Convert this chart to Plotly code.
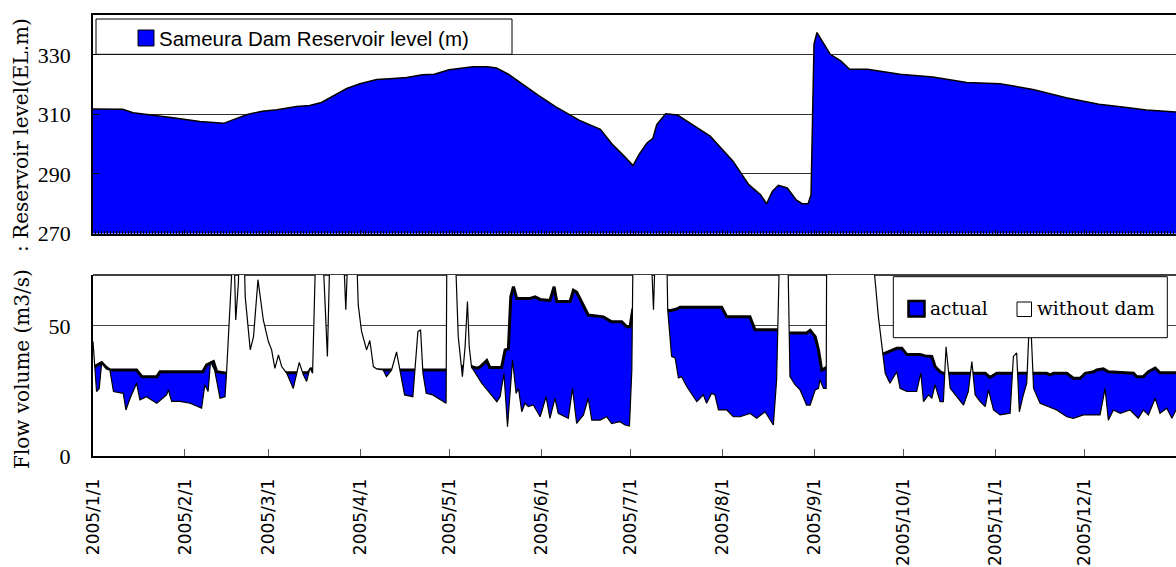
import pandas as pd
import plotly.graph_objects as go

BASE = pd.Timestamp("2005-01-01")

# ---- x axis month ticks ----
month_ticks = ["2005-%02d-01" % m for m in range(1, 13)]
month_labels = ["2005/%d/1" % m for m in range(1, 13)]

# ---- reservoir level (day of year offset, m) ----
res_days = [0, 10, 13.5, 23.7, 27, 36, 40, 44, 48, 52, 57, 62, 68.6, 73, 77, 80, 85.5, 90,
            95.6, 100, 105.7, 111, 115, 120, 124, 128, 133, 136, 140, 144, 150, 156, 164,
            171, 175, 179, 182, 184, 186.7, 188.7, 190, 193, 197, 202, 208, 215.7, 221,
            225, 227, 229, 231, 234, 237, 239, 241, 242, 243, 244, 248.5, 252, 255, 261,
            272, 283, 294.5, 305.7, 316.8, 328, 339, 347, 355, 365]
res_level = [311.8, 311.7, 310.6, 309.4, 308.9, 307.6, 307.2, 307.0, 308.5, 310.0, 311.1,
             311.6, 312.7, 313.0, 314.0, 315.6, 318.7, 320.3, 321.7, 322.0, 322.4, 323.3,
             323.5, 325.0, 325.5, 326.0, 326.0, 325.6, 323.5, 320.6, 316.5, 312.5, 308.0,
             305.0, 300.0, 296.0, 292.8, 296.5, 300.4, 302.0, 306.6, 310.2, 309.8, 306.6,
             302.7, 294.3, 286.4, 283.0, 280.0, 284.2, 286.2, 285.3, 281.3, 280.0, 280.0,
             283.0, 333.6, 337.5, 330.2, 328.0, 325.2, 325.2, 323.5, 322.6, 320.7, 320.3,
             318.4, 315.6, 313.4, 312.5, 311.5, 310.8]

# ---- flow volume: actual (day offset, m3/s) ----
act_days = [0, 2.9, 4.5, 5.7, 14.7, 16.5, 21.5, 22.6, 37, 38.3, 40.6, 41.7, 45, 50, 60,
            65.3, 72.5, 73.5, 74.5, 80, 90, 93, 95, 119.5, 122, 123.7, 127.6, 129.3, 130.4,
            132.7, 133.8, 137.7, 138.9, 140, 140.8, 141.7, 142.8, 147.3, 149, 150.7, 154,
            155.4, 156.3, 160.8, 161.9, 163, 164.7, 166.9, 172, 174.8, 178.2, 179.9, 181,
            181.9, 185, 190, 194.5, 196.7, 197.9, 211.9, 213.6, 221.4, 223.1, 231, 233,
            234.9, 240.5, 241.7, 243.4, 244.5, 245.6, 247.1, 255, 263, 266.2, 270.9, 272.6,
            274.3, 278.7, 280.4, 282.7, 283.8, 285.5, 286.6, 300.7, 302.3, 304.6, 321.4,
            322.6, 323.7, 328.2, 330.4, 332.7, 334.4, 337.2, 338.3, 340.5, 342.2, 346.2,
            350.7, 351.8, 354, 355.7, 358, 359.6, 365]
act_flow = [34.0, 35.9, 34.0, 33.1, 33.1, 30.5, 30.5, 32.4, 32.4, 35.0, 36.3, 32.4, 31.8,
            33.0, 33.0, 32.0, 32.0, 33.5, 33.0, 33.0, 33.0, 34.0, 33.1, 33.1, 33.5, 34.4,
            34.4, 33.8, 34.2, 36.7, 34.0, 34.0, 40.8, 41.2, 61.2, 65.1, 60.6, 60.6, 61.2,
            60.2, 59.8, 65.1, 59.4, 59.4, 63.7, 63.0, 59.4, 54.2, 53.5, 51.6, 51.6, 49.7,
            49.7, 56.2, 57.0, 57.0, 55.9, 56.5, 57.2, 57.2, 53.5, 53.5, 48.5, 48.5, 47.5,
            47.3, 47.3, 48.3, 45.9, 40.8, 33.0, 34.0, 38.0, 39.0, 39.2, 41.4, 41.4, 39.0,
            39.0, 38.5, 38.3, 34.4, 32.4, 31.8, 31.8, 30.2, 31.8, 31.8, 31.2, 31.8, 31.8,
            29.9, 29.9, 31.8, 32.4, 33.1, 33.5, 32.4, 32.0, 31.8, 30.5, 30.5, 32.4, 33.8,
            32.0, 32.0]

# ---- flow volume: without dam (day offset, m3/s); 90 = off the chart ----
nodam_days = [0, 1.2, 2.1, 2.9, 4.5, 5.7, 6.9, 10.2, 11.1, 12.5, 14.7, 15.8, 18, 21.5, 24.8,
              25.4, 26.5, 29.3, 32.7, 36.6, 37.7, 38.8, 39.6, 41, 42.8, 44.5, 45, 46.7, 47.3,
              48.1, 49, 49.6, 50.7, 51.3, 53, 54.1, 55.6, 57.4, 59.1, 60.2, 61.3, 62.5, 63.6,
              65.3, 67.5, 69.5, 70.9, 72, 73.1, 74, 74.8, 75.3, 77, 79, 80.1, 84, 85.2, 86.3,
              88.5, 89.4, 90.5, 92.2, 93.3, 94.5, 95.6, 97.8, 98.9, 100.6, 102.3, 103.4, 105,
              107.8, 108.4, 109.5, 110.4, 111.2, 112.3, 114.5, 119, 119.3, 122, 122.3, 123.1,
              124, 124.5, 125.4, 126.2, 126.8, 127.6, 128.2, 131, 133.8, 136.1, 137.2, 138.5,
              139.7, 140.5, 141.4, 142.6, 143.4, 144.5, 145.6, 146.7, 148.4, 150.7, 152.7,
              154, 155.7, 156.8, 160.2, 161.6, 163, 165.3, 166.9, 168.1, 170.9, 173.1, 174.8,
              177.6, 179.3, 180.8, 181.6, 182.1, 187.7, 188.9, 189.8, 193.2, 193.7, 195,
              196.2, 197.3, 198.4, 200.1, 203.5, 205.7, 206.8, 208.5, 209.6, 210.8, 213.6,
              215.8, 218.1, 221.4, 223.7, 226.5, 229.3, 230.4, 231.6, 234, 234.4, 234.9,
              236.6, 238.3, 240.5, 241.7, 243.4, 244.5, 245, 246.2, 247.1, 247.3, 262.5,
              263, 264.7, 266.2, 267, 268.6, 270.9, 272, 274.3, 277.6, 279, 279.9, 281.6,
              282.7, 283.8, 285.5, 286.6, 287.5, 288.9, 291.1, 293.4, 295, 296.2, 297.3,
              299, 300.7, 301.8, 303.5, 305.7, 309.1, 310.2, 311.3, 312.2, 313.4, 314.7,
              315.8, 317, 319.2, 322, 324.8, 328.2, 330.4, 333.8, 336.6, 339.4, 341.1,
              342.2, 343.9, 346.2, 349.5, 352.3, 354, 355.7, 358, 359.6, 361.9, 363.6, 365]
nodam_flow = [44.0, 24.8, 26.0, 35.6, 33.5, 33.0, 24.8, 24.1, 17.7, 22.2, 28.0, 21.6, 22.8,
              20.3, 23.5, 25.4, 21.0, 21.0, 20.3, 18.4, 27.4, 24.8, 36.3, 33.0, 22.2, 22.8,
              31.8, 69.0, 90, 52.3, 66.5, 90, 90, 61.2, 40.8, 45.9, 67.8, 52.3, 44.0, 40.8,
              33.7, 38.9, 34.4, 31.8, 26.0, 36.0, 31.2, 28.7, 33.8, 31.8, 67.4, 90, 90, 38.3,
              90, 90, 56.2, 90, 90, 58.0, 48.0, 40.8, 44.4, 34.4, 33.5, 33.1, 30.5, 33.0, 40.0,
              33.0, 23.5, 22.8, 32.0, 47.8, 48.5, 31.8, 24.1, 23.5, 20.3, 90, 90, 72.0, 45.9,
              35.0, 30.5, 42.0, 59.4, 42.0, 34.0, 33.1, 28.0, 24.1, 20.9, 22.8, 31.8, 11.3,
              25.4, 36.9, 24.1, 26.0, 17.0, 20.3, 19.0, 19.6, 15.1, 22.8, 14.5, 22.2, 16.4,
              14.5, 26.0, 12.5, 15.8, 22.2, 13.8, 13.8, 15.1, 12.5, 13.2, 11.9, 11.5, 33.0,
              90, 90, 56.2, 90, 90, 56.2, 38.3, 37.7, 30.0, 30.5, 26.7, 20.9, 23.5, 20.3,
              24.1, 23.5, 17.7, 17.7, 15.1, 15.1, 16.4, 14.5, 17.0, 11.9, 29.3, 90, 90, 60.0,
              30.5, 27.4, 25.4, 19.6, 19.6, 25.4, 26.0, 29.3, 26.0, 26.0, 90, 90, 75.0, 53.5,
              39.2, 31.8, 28.0, 32.4, 26.0, 24.8, 24.8, 32.0, 20.9, 23.5, 22.2, 27.4, 20.9,
              20.9, 42.0, 26.0, 22.8, 19.6, 24.8, 36.3, 23.5, 20.9, 19.0, 25.4, 17.7, 15.8,
              16.4, 38.3, 39.6, 17.0, 22.8, 28.0, 58.0, 26.0, 20.3, 19.0, 17.7, 15.1, 14.5,
              15.8, 15.8, 15.8, 26.0, 13.8, 17.7, 16.4, 17.7, 14.5, 17.7, 15.8, 22.2, 16.4,
              18.4, 14.5, 17.7]


def to_dates(days):
    return [BASE + pd.Timedelta(days=d) for d in days]


W, H = 1176, 567


def px(x):
    return x / W


def py(y):
    return 1 - y / H


X0 = px(93)
XEND = BASE + pd.Timedelta(days=365)
BLUE = "#0000FF"

fig = go.Figure()

fig.add_trace(go.Scatter(x=to_dates(res_days), y=res_level, mode="lines",
                         line=dict(color="black", width=1.5), fill="tozeroy",
                         fillcolor=BLUE, xaxis="x", yaxis="y", showlegend=False,
                         name="Sameura Dam Reservoir level (m)"))
fig.add_trace(go.Scatter(x=to_dates(act_days), y=act_flow, mode="lines",
                         line=dict(color="black", width=3), fill="tozeroy",
                         fillcolor=BLUE, xaxis="x2", yaxis="y2", showlegend=False,
                         name="actual"))
fig.add_trace(go.Scatter(x=to_dates(nodam_days), y=nodam_flow, mode="lines",
                         line=dict(color="black", width=1.2), fill="tozeroy",
                         fillcolor="white", xaxis="x2", yaxis="y2", showlegend=False,
                         name="without dam"))

serif = dict(family="Liberation Serif", size=22, color="black")

fig.update_layout(
    width=W, height=H, margin=dict(l=0, r=0, t=0, b=0, pad=0, autoexpand=False),
    paper_bgcolor="white", plot_bgcolor="rgba(0,0,0,0)",
    showlegend=False,
    xaxis=dict(domain=[X0, 1], range=[BASE, XEND], anchor="y", showticklabels=False,
               automargin=False,
               showline=True, linecolor="black", linewidth=1.5, mirror=True,
               tickvals=month_ticks, ticks="inside", ticklen=4, tickcolor="black",
               minor=dict(ticks="inside", dtick=86400000, ticklen=3, tickcolor="black",
                          tickwidth=1, showgrid=False),
               showgrid=False, zeroline=False),
    yaxis=dict(domain=[py(233.5), py(15)], range=[270, 343.4], automargin=False,
               tickvals=[270, 290, 310, 330], ticks="inside", ticklen=6,
               tickcolor="black", showgrid=True, gridcolor="#333333", gridwidth=1,
               showline=True, linecolor="black", linewidth=1.5, zeroline=False,
               tickfont=serif, ticklabelstandoff=16),
    xaxis2=dict(domain=[X0, 1], range=[BASE, XEND], anchor="y2", automargin=False,
                tickvals=month_ticks, ticktext=month_labels, tickangle=-90,
                tickfont=dict(family="DejaVu Sans", size=17, color="black"),
                ticks="inside", ticklen=7, tickcolor="#555555",
                showline=True, linecolor="black", linewidth=2, showgrid=False,
                zeroline=False, ticklabelstandoff=14),
    yaxis2=dict(domain=[py(456), py(275)], range=[0, 69.6], tickvals=[0, 50],
                automargin=False,
                ticks="", showgrid=True, gridcolor="#444444", gridwidth=1,
                showline=True, linecolor="black", linewidth=2, zeroline=False,
                tickfont=serif, ticklabelstandoff=16),
)

shapes = [
    # top border of the flow panel (covered where "without dam" runs off the chart)
    dict(type="line", xref="paper", yref="paper", x0=X0, x1=1, y0=py(275), y1=py(275),
         line=dict(color="black", width=1.5), layer="below"),
    # reservoir legend
    dict(type="rect", xref="paper", yref="paper", x0=px(96), x1=px(512), y0=py(54.3),
         y1=py(19), line=dict(color="black", width=1), fillcolor="white", layer="above"),
    dict(type="rect", xref="paper", yref="paper", x0=px(138), x1=px(154), y0=py(46),
         y1=py(30), line=dict(color="black", width=1), fillcolor=BLUE, layer="above"),
    # flow legend
    dict(type="rect", xref="paper", yref="paper", x0=px(893.3), x1=px(1167.3),
         y0=py(337.7), y1=py(276.7), line=dict(color="black", width=1),
         fillcolor="white", layer="above"),
    dict(type="rect", xref="paper", yref="paper", x0=px(908.5), x1=px(924.5),
         y0=py(316.5), y1=py(301), line=dict(color="black", width=2.5),
         fillcolor=BLUE, layer="above"),
    dict(type="rect", xref="paper", yref="paper", x0=px(1017), x1=px(1031.5),
         y0=py(316.5), y1=py(302), line=dict(color="black", width=1),
         fillcolor="white", layer="above"),
]
fig.update_layout(shapes=shapes)

legend_font = dict(family="DejaVu Serif", size=18.5, color="black")
title_font = dict(family="DejaVu Serif", size=20, color="black")
annotations = [
    dict(text="Sameura Dam Reservoir level (m)", x=px(157), y=py(38.5), xref="paper",
         yref="paper", xanchor="left", yanchor="middle", showarrow=False,
         font=dict(family="Liberation Sans", size=20.5, color="black")),
    dict(text="actual", x=px(928), y=py(308.5), xref="paper", yref="paper",
         xanchor="left", yanchor="middle", showarrow=False, font=legend_font),
    dict(text="without dam", x=px(1035), y=py(308.5), xref="paper", yref="paper",
         xanchor="left", yanchor="middle", showarrow=False, font=legend_font),
    dict(text=": Reservoir level(EL.m)", x=px(21), y=py(135), xref="paper",
         yref="paper", xanchor="center", yanchor="middle", textangle=-90,
         showarrow=False, font=title_font),
    dict(text="Flow volume (m3/s)", x=px(22), y=py(369), xref="paper", yref="paper",
         xanchor="center", yanchor="middle", textangle=-90, showarrow=False,
         font=title_font),
]
fig.update_layout(annotations=annotations)

fig.write_html("out.html", config={"displayModeBar": False},
               post_script="document.body.style.margin='0px';")
